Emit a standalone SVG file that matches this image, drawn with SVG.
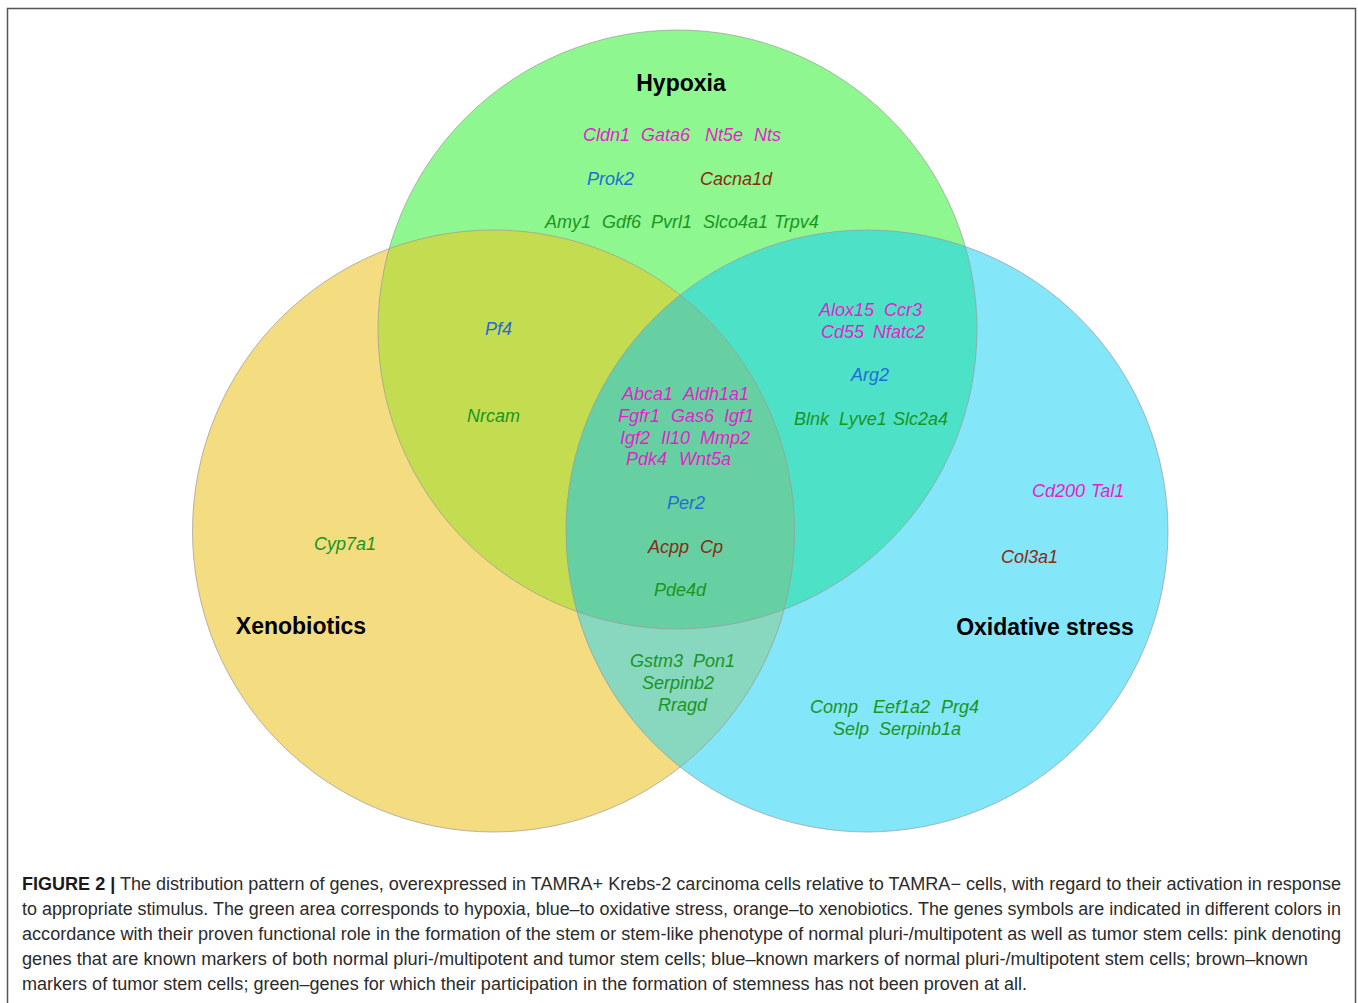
<svg xmlns="http://www.w3.org/2000/svg" width="1358" height="1003" viewBox="0 0 1358 1003">
<style>
.g{font-family:"Liberation Sans",Arial,sans-serif;font-style:italic;font-size:18px}
.pk{fill:#E41FCB}.bl{fill:#1E6ED6}.br{fill:#8A2B12}.gr{fill:#1A951F}
.t{font-family:"Liberation Sans",Arial,sans-serif;font-weight:bold;font-size:23px;fill:#000}
.c{font-family:"Liberation Sans",Arial,sans-serif;font-size:17.5px;fill:#2b2b2b}
.ol{fill:none;stroke:#9a9a9a;stroke-width:0.7}
</style>
<defs>
<clipPath id="cH"><circle cx="677.5" cy="329.5" r="299.5"/></clipPath>
<clipPath id="cX"><circle cx="493.5" cy="531" r="301"/></clipPath>
</defs>
<rect x="7.5" y="8.5" width="1348" height="1000" fill="#fff" stroke="#555" stroke-width="1.5"/>
<g id="hypoxia">
<circle cx="677.5" cy="329.5" r="299.5" fill="#8FF790"/>
</g>
<g id="xenobiotics">
<circle cx="493.5" cy="531" r="301" fill="#F4DC80"/>
</g>
<g id="oxidative-stress">
<circle cx="867" cy="531" r="301" fill="#83E6F9"/>
</g>
<g id="overlaps">
<circle cx="493.5" cy="531" r="301" fill="#C4DC4F" clip-path="url(#cH)"/>
<circle cx="867" cy="531" r="301" fill="#4DE2C8" clip-path="url(#cH)"/>
<circle cx="867" cy="531" r="301" fill="#87D8BE" clip-path="url(#cX)"/>
<g clip-path="url(#cH)"><circle cx="867" cy="531" r="301" fill="#66D0A2" clip-path="url(#cX)"/></g>
</g>
<g id="outlines">
<circle class="ol" cx="677.5" cy="329.5" r="299.5"/>
<circle class="ol" cx="493.5" cy="531" r="301"/>
<circle class="ol" cx="867" cy="531" r="301"/>
</g>
<g id="titles">
<text class="t" x="681" y="91" text-anchor="middle">Hypoxia</text>
<text class="t" x="301" y="634" text-anchor="middle">Xenobiotics</text>
<text class="t" x="1045" y="635" text-anchor="middle">Oxidative stress</text>
</g>
<g id="genes" class="g">
<text class="pk" x="583" y="141">Cldn1</text>
<text class="pk" x="641" y="141">Gata6</text>
<text class="pk" x="705" y="141">Nt5e</text>
<text class="pk" x="754" y="141">Nts</text>
<text class="bl" x="587" y="185">Prok2</text>
<text class="br" x="700" y="185">Cacna1d</text>
<text class="gr" x="545" y="228">Amy1</text>
<text class="gr" x="602" y="228">Gdf6</text>
<text class="gr" x="651" y="228">Pvrl1</text>
<text class="gr" x="703" y="228">Slco4a1</text>
<text class="gr" x="774" y="228">Trpv4</text>
<text class="bl" x="485" y="335">Pf4</text>
<text class="gr" x="467" y="422">Nrcam</text>
<text class="pk" x="819" y="316">Alox15</text>
<text class="pk" x="884" y="316">Ccr3</text>
<text class="pk" x="821" y="338">Cd55</text>
<text class="pk" x="873" y="338">Nfatc2</text>
<text class="bl" x="851" y="381">Arg2</text>
<text class="gr" x="794" y="425">Blnk</text>
<text class="gr" x="839" y="425">Lyve1</text>
<text class="gr" x="893" y="425">Slc2a4</text>
<text class="pk" x="622" y="400">Abca1</text>
<text class="pk" x="683" y="400">Aldh1a1</text>
<text class="pk" x="618" y="422">Fgfr1</text>
<text class="pk" x="671" y="422">Gas6</text>
<text class="pk" x="724" y="422">Igf1</text>
<text class="pk" x="620" y="444">Igf2</text>
<text class="pk" x="661" y="444">Il10</text>
<text class="pk" x="700" y="444">Mmp2</text>
<text class="pk" x="626" y="465">Pdk4</text>
<text class="pk" x="679" y="465">Wnt5a</text>
<text class="bl" x="667" y="509">Per2</text>
<text class="br" x="648" y="553">Acpp</text>
<text class="br" x="700" y="553">Cp</text>
<text class="gr" x="654" y="596">Pde4d</text>
<text class="gr" x="314" y="550">Cyp7a1</text>
<text class="pk" x="1032" y="497">Cd200</text>
<text class="pk" x="1091" y="497">Tal1</text>
<text class="br" x="1001" y="563">Col3a1</text>
<text class="gr" x="630" y="667">Gstm3</text>
<text class="gr" x="693" y="667">Pon1</text>
<text class="gr" x="642" y="689">Serpinb2</text>
<text class="gr" x="658" y="711">Rragd</text>
<text class="gr" x="810" y="713">Comp</text>
<text class="gr" x="873" y="713">Eef1a2</text>
<text class="gr" x="941" y="713">Prg4</text>
<text class="gr" x="833" y="735">Selp</text>
<text class="gr" x="879" y="735">Serpinb1a</text>
</g>
<g id="caption">
<text class="c" x="22" y="890" textLength="1319" lengthAdjust="spacingAndGlyphs"><tspan font-weight="bold" fill="#1a1a1a">FIGURE 2 |</tspan> The distribution pattern of genes, overexpressed in TAMRA+ Krebs-2 carcinoma cells relative to TAMRA− cells, with regard to their activation in response</text>
<text class="c" x="22" y="915" textLength="1319" lengthAdjust="spacingAndGlyphs">to appropriate stimulus. The green area corresponds to hypoxia, blue–to oxidative stress, orange–to xenobiotics. The genes symbols are indicated in different colors in</text>
<text class="c" x="22" y="940" textLength="1319" lengthAdjust="spacingAndGlyphs">accordance with their proven functional role in the formation of the stem or stem-like phenotype of normal pluri-/multipotent as well as tumor stem cells: pink denoting</text>
<text class="c" x="22" y="965" textLength="1286" lengthAdjust="spacingAndGlyphs">genes that are known markers of both normal pluri-/multipotent and tumor stem cells; blue–known markers of normal pluri-/multipotent stem cells; brown–known</text>
<text class="c" x="22" y="990" textLength="1005" lengthAdjust="spacingAndGlyphs">markers of tumor stem cells; green–genes for which their participation in the formation of stemness has not been proven at all.</text>
</g>
</svg>
